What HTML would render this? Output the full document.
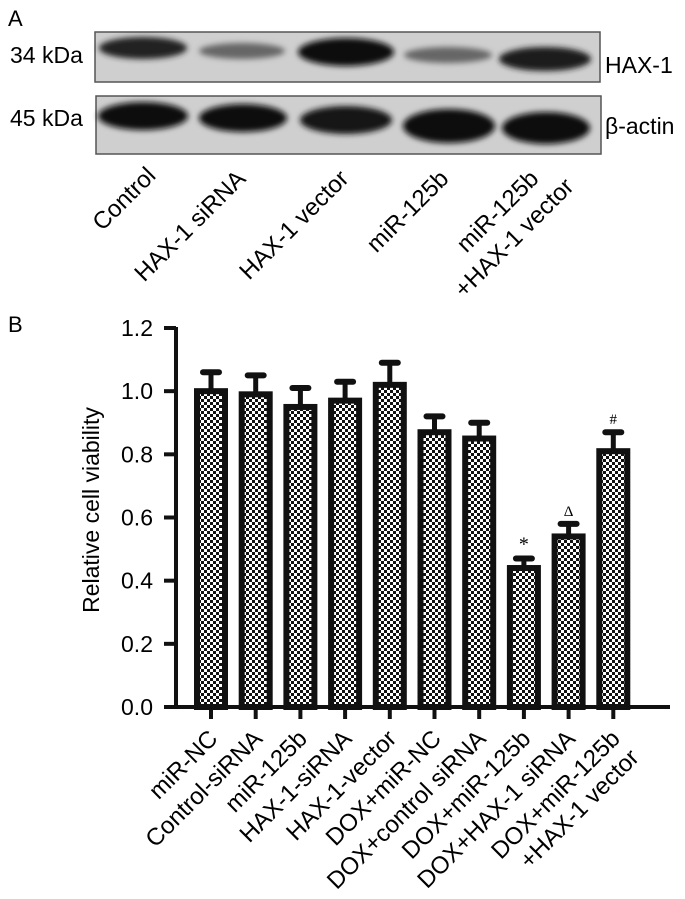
<!DOCTYPE html>
<html><head><meta charset="utf-8"><style>
html,body{margin:0;padding:0;background:#fff;width:685px;height:899px;overflow:hidden}
svg{display:block;font-family:"Liberation Sans",Arial,sans-serif}
</style></head><body>
<svg width="685" height="899" viewBox="0 0 685 899">
<defs>
<pattern id="chk" width="6" height="6" patternUnits="userSpaceOnUse">
<rect width="6" height="6" fill="#fff"/>
<rect width="3" height="3" fill="#111"/><rect x="3" y="3" width="3" height="3" fill="#111"/>
</pattern>
<filter id="blur" x="-20%" y="-50%" width="140%" height="200%"><feGaussianBlur stdDeviation="3"/></filter>
</defs>
<g>
<text x="8" y="26" font-size="22">A</text>
<rect x="95" y="32" width="505" height="50" fill="#cfcfcf" stroke="#555" stroke-width="1.5"/>
<rect x="96" y="96" width="505" height="58" fill="#cfcfcf" stroke="#555" stroke-width="1.5"/>
<g filter="url(#blur)">
<ellipse cx="143" cy="48" rx="44" ry="11" fill="#222"/>
<ellipse cx="242" cy="51" rx="43" ry="8" fill="#666"/>
<ellipse cx="346" cy="52" rx="48" ry="14" fill="#111"/>
<ellipse cx="448" cy="55" rx="44" ry="8" fill="#666"/>
<ellipse cx="545" cy="59" rx="46" ry="12" fill="#1a1a1a"/>
<ellipse cx="143" cy="116" rx="45" ry="14" fill="#111"/>
<ellipse cx="243" cy="118" rx="44" ry="14" fill="#111"/>
<ellipse cx="346" cy="120" rx="46" ry="14" fill="#151515"/>
<ellipse cx="449" cy="126" rx="46" ry="17" fill="#0c0c0c"/>
<ellipse cx="546" cy="128" rx="44" ry="16" fill="#0c0c0c"/>
</g>
<text x="10" y="63" font-size="23">34 kDa</text>
<text x="10" y="126" font-size="23">45 kDa</text>
<text x="605" y="73" font-size="23">HAX-1</text>
<text x="605" y="134" font-size="23">β-actin</text>
<g font-size="24" text-anchor="end">
<text transform="translate(157,177) rotate(-45)">Control</text>
<text transform="translate(247,180) rotate(-45)">HAX-1 siRNA</text>
<text transform="translate(350,180) rotate(-45)">HAX-1 vector</text>
<text transform="translate(450,180) rotate(-45)">miR-125b</text>
<text transform="translate(540,180) rotate(-45)">miR-125b</text>
<text transform="translate(575,188) rotate(-45)">+HAX-1 vector</text>
</g>
</g>
<text x="8" y="332" font-size="22">B</text>
<g id="chart"></g>
</svg>
<script>
const categories=["miR-NC","Control-siRNA","miR-125b","HAX-1-siRNA","HAX-1-vector","DOX+miR-NC","DOX+control siRNA","DOX+miR-125b","DOX+HAX-1 siRNA","DOX+miR-125b"];
const categories2=["","","","","","","","","","+HAX-1 vector"];
const values=[1.00,0.99,0.95,0.97,1.02,0.87,0.85,0.44,0.54,0.81];
const errors=[0.06,0.06,0.06,0.06,0.07,0.05,0.05,0.03,0.04,0.06];
const marks=["","","","","","","","*","Δ","#"];
const yTicks=["0.0","0.2","0.4","0.6","0.8","1.0","1.2"];
const NS="http://www.w3.org/2000/svg";
const g=document.getElementById('chart');
const x0=176,y0=707,yTop=328,yMax=1.2,first=211,step=44.7;
const y=v=>y0-(v/yMax)*(y0-yTop);
const x=i=>first+i*step;
function mk(t,a,p){const e=document.createElementNS(NS,t);for(const k in a)e.setAttribute(k,a[k]);(p||g).appendChild(e);return e;}
let ax=mk('line',{x1:x0,y1:yTop-1,x2:x0,y2:y0+2,stroke:'#111','stroke-width':4});


let xa=mk('line',{x1:x0-2,y1:y0,x2:670,y2:y0,stroke:'#111','stroke-width':4});


yTicks.forEach(t=>{const v=parseFloat(t),yy=y(v);
 let tk=mk('line',{x1:x0-12,y1:yy,x2:x0,y2:yy,stroke:'#111','stroke-width':4});
 
 
 let tl=mk('text',{x:153,y:yy+8,'font-size':23,'text-anchor':'end'});tl.textContent=t;
 
 
});
let yt=mk('text',{transform:'translate(99,510) rotate(-90)','font-size':23,'text-anchor':'middle'});
yt.textContent='Relative cell viability';


const bw=28;
values.forEach((v,i)=>{const cx=x(i),top=y(v),eTop=y(v+errors[i]);
 let el=mk('line',{x1:cx,y1:top,x2:cx,y2:eTop,stroke:'#111','stroke-width':5});
 
 
 let cap=mk('line',{x1:cx-8,y1:eTop,x2:cx+8,y2:eTop,stroke:'#111','stroke-width':6,'stroke-linecap':'round'});
 
 
 let b=mk('rect',{x:cx-bw/2,y:top,width:bw,height:y0-top,fill:'url(#chk)',stroke:'#111','stroke-width':6});
 
 
 let tk=mk('line',{x1:cx,y1:y0,x2:cx,y2:y0+12,stroke:'#111','stroke-width':4});
 
 
 if(marks[i]){let m=mk('text',{x:cx,y:eTop-8,'font-size':marks[i]=='*'?20:15,'text-anchor':'middle','font-family':'Liberation Serif,serif'});m.textContent=marks[i];
  
  }
 let l=mk('text',{transform:`translate(${cx+8},${y0+33}) rotate(-45)`,'font-size':24,'text-anchor':'end'});l.textContent=categories[i];
 
 
 if(categories2[i]){let l2=mk('text',{transform:`translate(${cx+27},${y0+52}) rotate(-45)`,'font-size':24,'text-anchor':'end'});l2.textContent=categories2[i];
  
  }
});
</script>
</body></html>
